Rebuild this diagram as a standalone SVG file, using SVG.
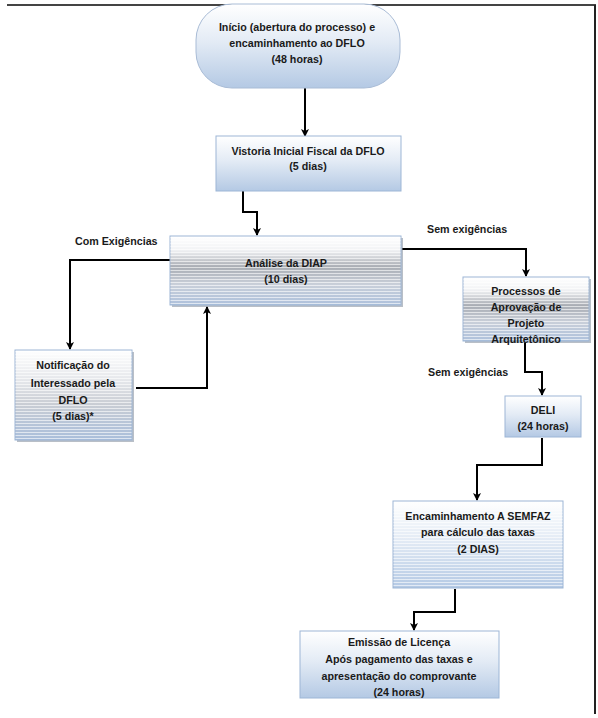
<svg xmlns="http://www.w3.org/2000/svg" width="598" height="718" viewBox="0 0 598 718">
<style>
.t{font-family:"Liberation Sans",Arial,sans-serif;font-weight:bold;font-size:10.7px;fill:#1a1a1a;text-anchor:middle}
.lb{font-family:"Liberation Sans",Arial,sans-serif;font-weight:bold;font-size:10.7px;fill:#1a1a1a}
.box{stroke:#9db6d6;stroke-width:1}
.sh{fill:#7f8a99;opacity:0.55}
.c{fill:none;stroke:#000;stroke-width:2}
</style>
<defs>
<linearGradient id="gb" x1="0" y1="0" x2="0" y2="1">
<stop offset="0" stop-color="#ffffff"/>
<stop offset="0.45" stop-color="#e3ebf5"/>
<stop offset="1" stop-color="#b4c9e4"/>
</linearGradient>
<linearGradient id="gs" x1="0" y1="0" x2="0" y2="1">
<stop offset="0" stop-color="#ffffff"/>
<stop offset="0.2" stop-color="#f2f3f5"/>
<stop offset="0.45" stop-color="#a9adb4"/>
<stop offset="0.7" stop-color="#c9cfd9"/>
<stop offset="1" stop-color="#aec1dc"/>
</linearGradient>
<linearGradient id="gn" x1="0" y1="0" x2="0" y2="1">
<stop offset="0" stop-color="#ffffff"/>
<stop offset="0.35" stop-color="#e4e6ea"/>
<stop offset="0.6" stop-color="#c9cdd4"/>
<stop offset="1" stop-color="#a9bedb"/>
</linearGradient>
<pattern id="st" width="4" height="3" patternUnits="userSpaceOnUse">
<rect width="4" height="1" fill="#ffffff" opacity="0.6"/>
</pattern>
<linearGradient id="fade" x1="0" y1="0" x2="0" y2="1">
<stop offset="0" stop-color="#fff" stop-opacity="0"/>
<stop offset="0.7" stop-color="#fff" stop-opacity="0"/>
<stop offset="0.72" stop-color="#fff" stop-opacity="1"/>
<stop offset="1" stop-color="#fff" stop-opacity="1"/>
</linearGradient>
<mask id="mb"><rect width="598" height="718" fill="url(#fade)"/></mask>
<marker id="ah" markerWidth="8" markerHeight="8" refX="7" refY="4" orient="auto" markerUnits="userSpaceOnUse">
<path d="M0,0 L8,4 L0,8 L2,4 Z" fill="#000"/>
</marker>
</defs>

<g id="frame">
<line x1="7" y1="5" x2="596" y2="5" stroke="#444" stroke-width="2"/>
<line x1="595" y1="5" x2="595" y2="714" stroke="#222" stroke-width="2"/>
</g>

<g id="connectors">
<line class="c" x1="305" y1="88" x2="305" y2="136" marker-end="url(#ah)"/>
<polyline class="c" points="243,191 243,212 257,212 257,235" marker-end="url(#ah)"/>
<polyline class="c" points="170,260 70,260 70,349" marker-end="url(#ah)"/>
<polyline class="c" points="136,388 207,388 207,307" marker-end="url(#ah)"/>
<polyline class="c" points="402,249 526,249 526,276" marker-end="url(#ah)"/>
<polyline class="c" points="525,342 525,372 542,372 542,395" marker-end="url(#ah)"/>
<polyline class="c" points="542,438 542,465 477,465 477,500" marker-end="url(#ah)"/>
<polyline class="c" points="455,589 455,612 414,612 414,630" marker-end="url(#ah)"/>
</g>

<g id="labels">
<text class="lb" x="75" y="245">Com Exigências</text>
<text class="lb" x="427" y="233">Sem exigências</text>
<text class="lb" x="428" y="376">Sem exigências</text>
</g>

<g id="inicio">
<rect x="196" y="4" width="204" height="84" rx="36" ry="36" fill="url(#gb)" stroke="#a9bcd6"/>
<text class="t" x="297" y="31">Início (abertura do processo) e</text>
<text class="t" x="297" y="47">encaminhamento ao DFLO</text>
<text class="t" x="297" y="63">(48 horas)</text>
</g>

<g id="vistoria">
<rect x="216" y="136" width="185" height="55" fill="url(#gb)" class="box"/>
<rect x="216.5" y="136.5" width="184" height="54" fill="url(#st)" mask="url(#mb)"/>
<text class="t" x="308" y="155">Vistoria Inicial Fiscal da DFLO</text>
<text class="t" x="308" y="170">(5 dias)</text>
</g>

<g id="analise">
<rect x="172" y="238" width="231" height="69" class="sh"/>
<rect x="170" y="236" width="231" height="69" fill="url(#gs)" class="box"/>
<rect x="170.5" y="236.5" width="230" height="68" fill="url(#st)"/>
<text class="t" x="286" y="267">Análise da DIAP</text>
<text class="t" x="286" y="283">(10 dias)</text>
</g>

<g id="notificacao">
<rect x="17" y="352" width="117" height="90" class="sh"/>
<rect x="15" y="350" width="117" height="90" fill="url(#gn)" class="box"/>
<rect x="15.5" y="350.5" width="116" height="89" fill="url(#st)"/>
<text class="t" x="73" y="369">Notificação do</text>
<text class="t" x="73" y="387">Interessado pela</text>
<text class="t" x="73" y="404">DFLO</text>
<text class="t" x="73" y="420">(5 dias)*</text>
</g>

<g id="processos">
<rect x="465" y="279" width="126" height="64" class="sh"/>
<rect x="463" y="277" width="126" height="64" fill="url(#gs)" class="box"/>
<rect x="463.5" y="277.5" width="125" height="63" fill="url(#st)"/>
<text class="t" x="526" y="295">Processos de</text>
<text class="t" x="526" y="311">Aprovação de</text>
<text class="t" x="526" y="327">Projeto</text>
<text class="t" x="526" y="343">Arquitetônico</text>
</g>

<g id="deli">
<rect x="505" y="396" width="76" height="41" fill="url(#gb)" class="box"/>
<text class="t" x="543" y="414">DELI</text>
<text class="t" x="543" y="430">(24 horas)</text>
</g>

<g id="encaminhamento">
<rect x="393" y="501" width="170" height="87" fill="url(#gb)" class="box"/>
<rect x="393.5" y="501.5" width="169" height="86" fill="url(#st)" mask="url(#mb)"/>
<text class="t" x="478" y="520">Encaminhamento A SEMFAZ</text>
<text class="t" x="478" y="536">para cálculo das taxas</text>
<text class="t" x="478" y="553">(2 DIAS)</text>
</g>

<g id="emissao">
<rect x="300" y="631" width="199" height="67" fill="url(#gb)" class="box"/>
<text class="t" x="399" y="646">Emissão de Licença</text>
<text class="t" x="399" y="663">Após pagamento das taxas e</text>
<text class="t" x="399" y="680">apresentação do comprovante</text>
<text class="t" x="399" y="696">(24 horas)</text>
</g>
</svg>
